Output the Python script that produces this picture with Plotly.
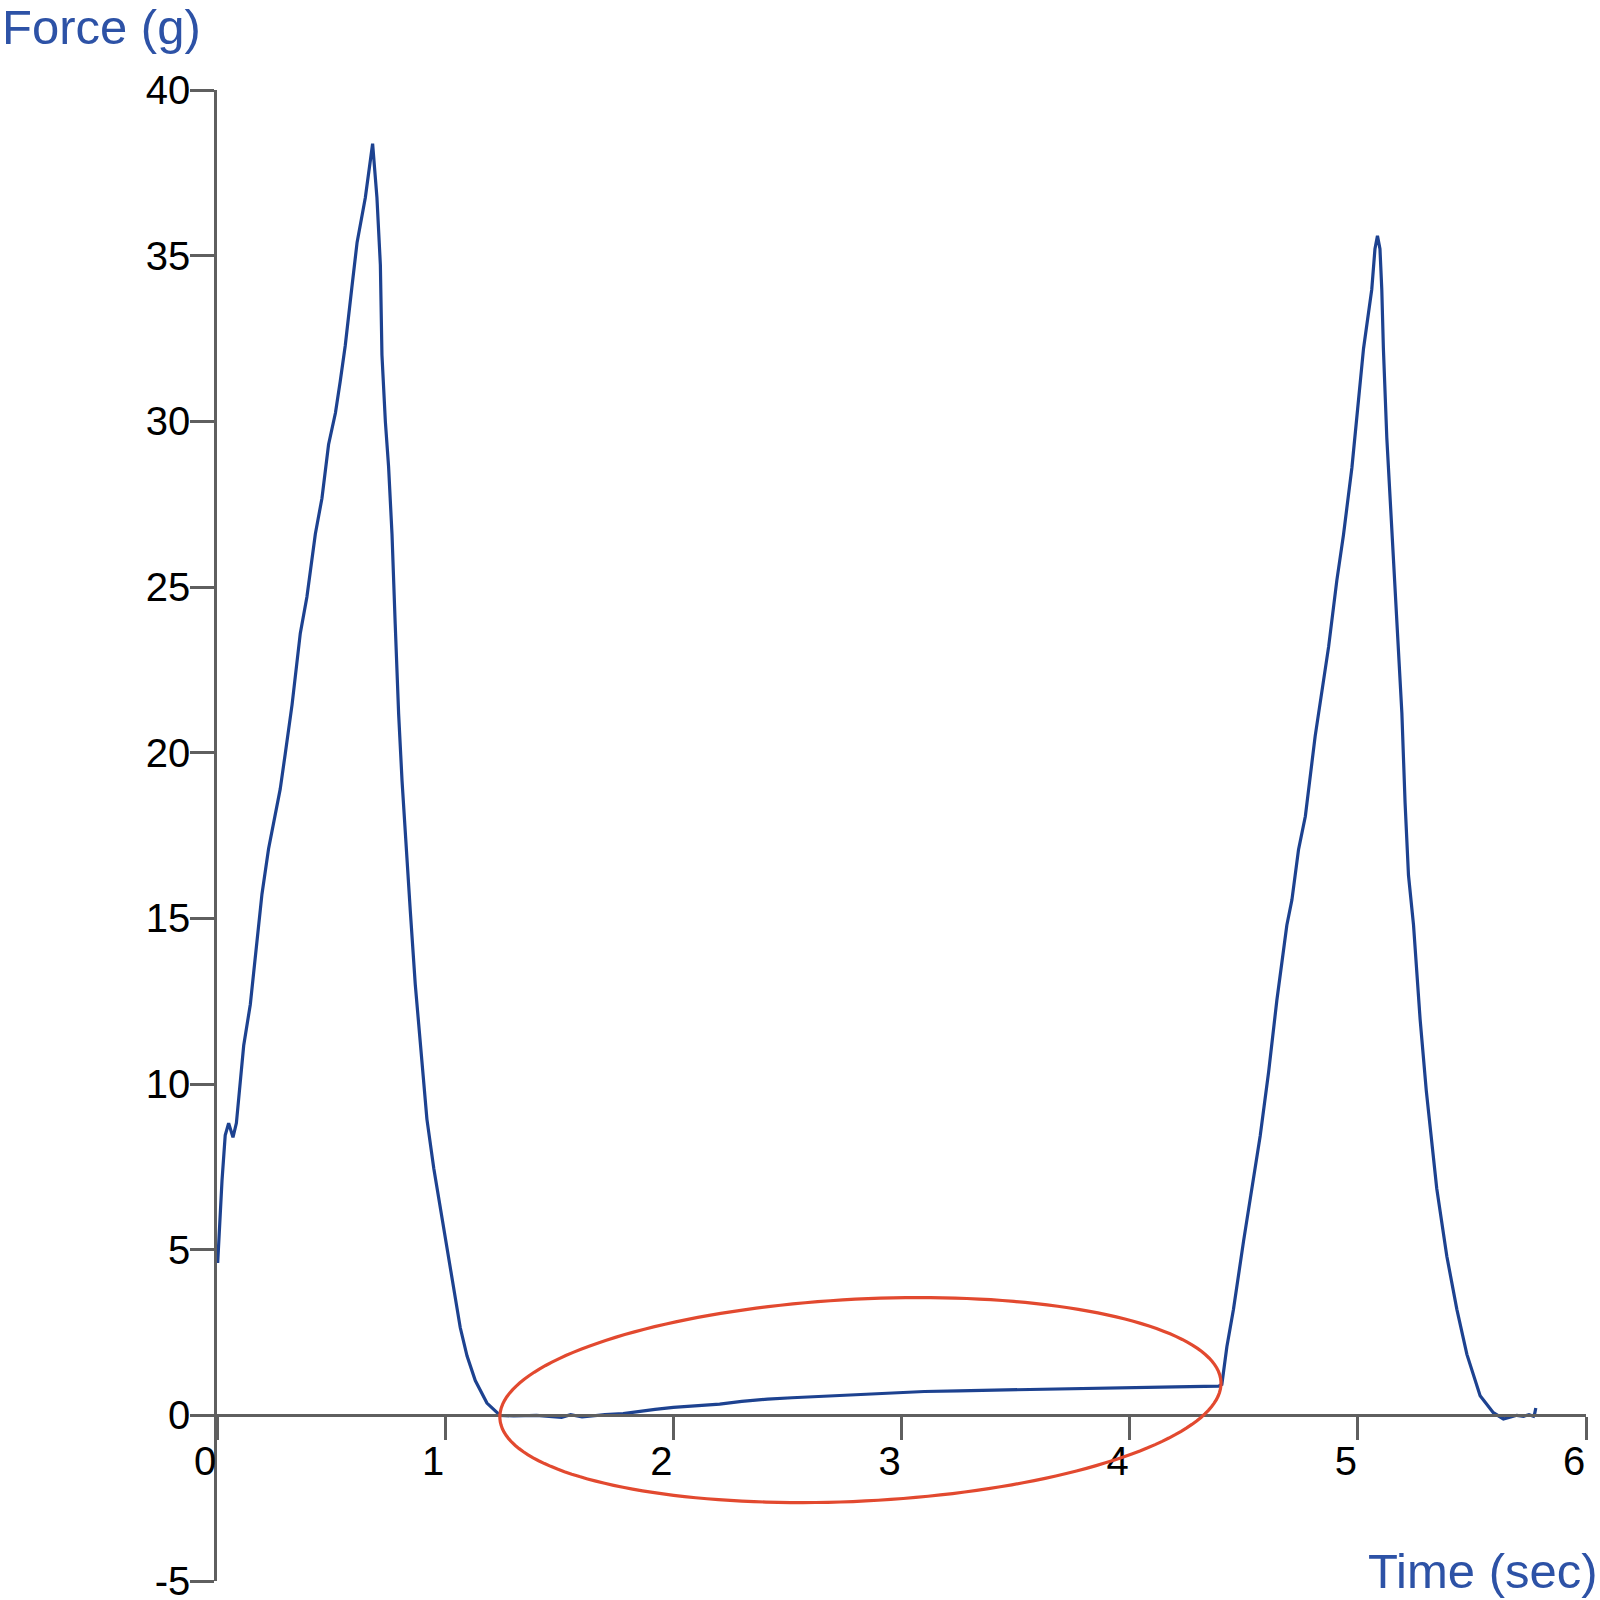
"""Force trace over time, with the low plateau between the two peaks circled."""
import numpy as np
import plotly.graph_objects as go

# ---- data ----
TIME_S = [
    0.0, 0.003, 0.022, 0.036, 0.051, 0.070, 0.085, 0.102, 0.117, 0.146, 0.175,
    0.197, 0.226, 0.256, 0.277, 0.299, 0.329, 0.365, 0.394, 0.431, 0.460, 0.489,
    0.519, 0.540, 0.562, 0.591, 0.614, 0.650, 0.682, 0.701, 0.716, 0.723, 0.738,
    0.752, 0.767, 0.781, 0.796, 0.811, 0.825, 0.847, 0.869, 0.891, 0.920, 0.950,
    0.979, 1.008, 1.037, 1.066, 1.096, 1.132, 1.183, 1.234, 1.241,
    1.30, 1.40, 1.51, 1.55, 1.60, 1.70, 1.78, 1.85, 1.92, 2.00, 2.10, 2.203,
    2.30, 2.413, 2.52, 2.62, 2.80, 3.00, 3.10, 3.25, 3.45, 3.67, 3.85, 4.00,
    4.20, 4.39, 4.404,
    4.426, 4.455, 4.499, 4.536, 4.572, 4.609, 4.645, 4.689, 4.711, 4.740, 4.770,
    4.813, 4.843, 4.872, 4.908, 4.937, 4.974, 5.003, 5.025, 5.061, 5.075, 5.086,
    5.097, 5.105, 5.112, 5.127, 5.141, 5.156, 5.178, 5.193, 5.207, 5.222, 5.244,
    5.273, 5.300, 5.346, 5.390, 5.434, 5.478, 5.536, 5.594, 5.638, 5.670, 5.697,
    5.726, 5.750, 5.770, 5.775, 5.780,
]
FORCE_G = [
    4.9, 4.6, 7.09, 8.45, 8.82, 8.39, 8.82, 10.18, 11.16, 12.4, 14.37,
    15.73, 17.1, 18.1, 18.9, 19.96, 21.45, 23.6, 24.7, 26.6, 27.68, 29.3,
    30.25, 31.2, 32.28, 34.04, 35.4, 36.75, 38.38, 36.75, 34.72, 32.0, 29.98,
    28.63, 26.6, 23.89, 21.18, 19.15, 17.5, 15.24, 13.0, 11.16, 8.94, 7.46,
    6.23, 5.0, 3.76, 2.65, 1.79, 1.05, 0.37, 0.06, 0.0,
    -0.02, 0.0, -0.06, 0.02, -0.05, 0.02, 0.05, 0.12, 0.18, 0.24, 0.29, 0.34,
    0.42, 0.49, 0.53, 0.56, 0.63, 0.69, 0.72, 0.74, 0.77, 0.80, 0.82, 0.83,
    0.86, 0.88, 0.93,
    2.07, 3.2, 5.25, 6.84, 8.43, 10.36, 12.52, 14.8, 15.55, 17.07, 18.08,
    20.5, 21.86, 23.2, 25.2, 26.57, 28.6, 30.6, 32.2, 33.98, 35.2, 35.6,
    35.2, 33.98, 32.2, 29.5, 27.8, 25.8, 23.2, 21.2, 18.5, 16.3, 14.8,
    11.95, 9.8, 6.84, 4.8, 3.2, 1.84, 0.59, 0.08, -0.11, -0.05, 0.0,
    -0.03, 0.02, -0.03, 0.05, 0.22,
]
X_TICKS = [0, 1, 2, 3, 4, 5, 6]
Y_TICKS = [-5, 0, 5, 10, 15, 20, 25, 30, 35, 40]
Y_TICK_LABELS = ["-5", "0", "5", "10", "15", "20", "25", "30", "35", "40"]
X_RANGE = [0, 6]
Y_RANGE = [-5, 40]

# highlight ellipse: centre in data units, semi-axes in pixels, tilt in degrees
ELLIPSE_CENTER = (2.82, 0.46)
ELLIPSE_AXES_PX = (361, 101)
ELLIPSE_TILT_DEG = 2.9

# ---- styling ----
W = H = 1600
M = dict(l=217, r=14, t=90, b=19)
FONT = "Arial, Liberation Sans, sans-serif"
LINE_BLUE = "#1d4290"
TITLE_BLUE = "#2d52a6"
AXIS_GREY = "#5f5f5f"
RED = "#e2492f"

plot_w = W - M["l"] - M["r"]
plot_h = H - M["t"] - M["b"]
px_x = plot_w / (X_RANGE[1] - X_RANGE[0])
px_y = plot_h / (Y_RANGE[1] - Y_RANGE[0])


def paper_x(px):
    return (px - M["l"]) / plot_w


def paper_y(py):
    return (H - M["b"] - py) / plot_h


fig = go.Figure(go.Scatter(
    x=TIME_S, y=FORCE_G, mode="lines",
    line=dict(color=LINE_BLUE, width=3.2), hoverinfo="skip",
))

# tilted ellipse, computed in pixel space then mapped back to data units
s = np.linspace(0, 2 * np.pi, 181)
a, b = ELLIPSE_AXES_PX
th = np.radians(ELLIPSE_TILT_DEG)
ex = ELLIPSE_CENTER[0] + (a * np.cos(s) * np.cos(th) - b * np.sin(s) * np.sin(th)) / px_x
ey = ELLIPSE_CENTER[1] + (a * np.cos(s) * np.sin(th) + b * np.sin(s) * np.cos(th)) / px_y
path = "M " + " L ".join(f"{x:.4f},{y:.4f}" for x, y in zip(ex, ey)) + " Z"
fig.add_shape(type="path", path=path, xref="x", yref="y",
              line=dict(color=RED, width=3.2), layer="above")

axis_common = dict(
    showline=True, linecolor=AXIS_GREY, linewidth=2.5,
    ticks="outside", tickcolor=AXIS_GREY, tickwidth=2.5,
    showgrid=False, zeroline=False, automargin=False, ticklabeloverflow="allow",
    tickfont=dict(family=FONT, size=40, color="#000000"),
)
fig.update_layout(
    width=W, height=H, margin=M,
    paper_bgcolor="#ffffff", plot_bgcolor="#ffffff", showlegend=False,
    xaxis=dict(axis_common, range=X_RANGE, tickvals=X_TICKS, ticklen=23,
               anchor="free", position=(0 - Y_RANGE[0]) / (Y_RANGE[1] - Y_RANGE[0]),
               ticklabelshift=-12, ticklabelstandoff=-13),
    yaxis=dict(axis_common, range=Y_RANGE, tickvals=Y_TICKS, ticktext=Y_TICK_LABELS,
               ticklen=24, ticklabelstandoff=-8),
    annotations=[
        dict(text="Force (g)", xref="paper", yref="paper",
             x=paper_x(0), y=paper_y(-2), xanchor="left", yanchor="top",
             showarrow=False, font=dict(family=FONT, size=49, color=TITLE_BLUE)),
        dict(text="Time (sec)", xref="paper", yref="paper",
             x=paper_x(1600), y=paper_y(1600), xanchor="right", yanchor="bottom",
             showarrow=False, font=dict(family=FONT, size=49, color=TITLE_BLUE)),
    ],
)

# the page is photographed at 1600x1600, so drop the default body margin
fig.write_html("out.html", config={"displayModeBar": False},
               post_script="document.body.style.margin='0';")
